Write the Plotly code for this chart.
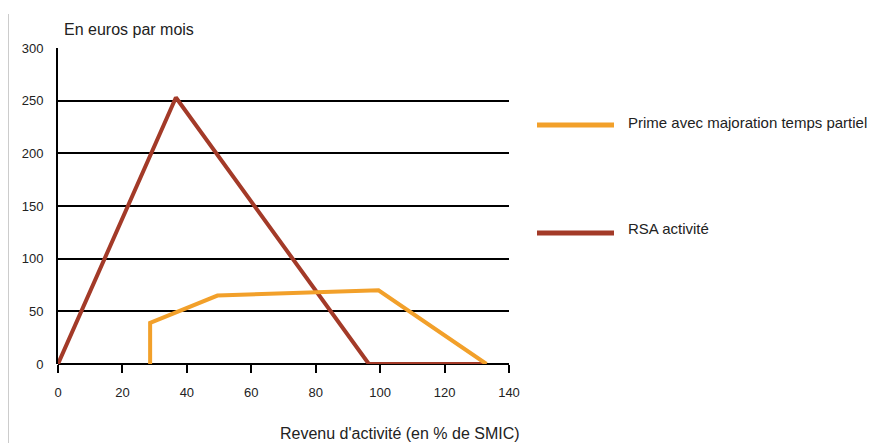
import plotly.graph_objects as go

# Data
rsa_x = [0, 36.6, 96.5, 133]
rsa_y = [0, 253, 0, 0]
prime_x = [28.6, 28.6, 49.5, 99.5, 133]
prime_y = [0, 39, 65, 70, 0]
series_names = ["Prime avec majoration temps partiel", "RSA activité"]
x_ticks = [0, 20, 40, 60, 80, 100, 120, 140]
y_ticks = [0, 50, 100, 150, 200, 250, 300]

ORANGE = "#F2A02A"
BROWN = "#A33A28"
FONT = "Liberation Sans Narrow, Liberation Sans, Arial, sans-serif"

fig = go.Figure()
fig.add_trace(go.Scatter(x=rsa_x, y=rsa_y, mode="lines", name=series_names[1],
                         line=dict(color=BROWN, width=4), showlegend=False,
                         cliponaxis=False))
fig.add_trace(go.Scatter(x=prime_x, y=prime_y, mode="lines", name=series_names[0],
                         line=dict(color=ORANGE, width=4), showlegend=False,
                         cliponaxis=False))

OFF = 8  # page body margin
W, H = 875, 435
# plot area in window pixels: x 58..509, y 48..364
L = 58 - OFF
T = 48 - OFF
R = W - (509 - OFF)
B = H - (364 - OFF)
pw = W - L - R
ph = H - T - B

def px(xp):
    return (xp - OFF - L) / pw

def py(yp):
    return (H - B - (yp - OFF)) / ph

fig.update_layout(
    width=W, height=H,
    margin=dict(l=L, r=R, t=T, b=B),
    paper_bgcolor="white", plot_bgcolor="white",
    font=dict(family=FONT, size=13, color="#222"),
    xaxis=dict(range=[0, 140], tickvals=x_ticks, ticks="outside", ticklen=8,
               tickwidth=2, tickcolor="black", showgrid=False, zeroline=False,
               showline=False, fixedrange=True, tickfont=dict(size=13),
               ticklabelstandoff=8),
    yaxis=dict(range=[0, 300], tickvals=y_ticks, showgrid=True, gridcolor="black",
               gridwidth=2, zeroline=True, zerolinecolor="black", zerolinewidth=2,
               showline=True, linecolor="black", linewidth=2, ticks="",
               ticklabelstandoff=10, fixedrange=True, tickfont=dict(size=13)),
    showlegend=False,
)

shapes = [
    dict(type="line", xref="paper", yref="paper", x0=px(8.5), x1=px(8.5), y0=py(14), y1=py(443),
         line=dict(color="#cccccc", width=1)),
    dict(type="line", xref="paper", yref="paper", x0=px(537), x1=px(614), y0=py(125), y1=py(125),
         line=dict(color=ORANGE, width=5)),
    dict(type="line", xref="paper", yref="paper", x0=px(537), x1=px(614), y0=py(233), y1=py(233),
         line=dict(color=BROWN, width=5)),
]
fig.update_layout(shapes=shapes)

annotations = [
    dict(text="En euros par mois", xref="paper", yref="paper", x=px(62), y=py(30),
         xanchor="left", yanchor="middle", showarrow=False, font=dict(size=16, family=FONT)),
    dict(text="Revenu d'activité (en % de SMIC)", xref="paper", yref="paper", x=px(522), y=py(433),
         xanchor="right", yanchor="middle", showarrow=False, font=dict(size=16, family=FONT)),
    dict(text=series_names[0], xref="paper", yref="paper", x=px(626), y=py(122),
         xanchor="left", yanchor="middle", showarrow=False, font=dict(size=15, family=FONT)),
    dict(text=series_names[1], xref="paper", yref="paper", x=px(626), y=py(229),
         xanchor="left", yanchor="middle", showarrow=False, font=dict(size=15, family=FONT)),
]
fig.update_layout(annotations=annotations)

fig.write_html("out.html")
